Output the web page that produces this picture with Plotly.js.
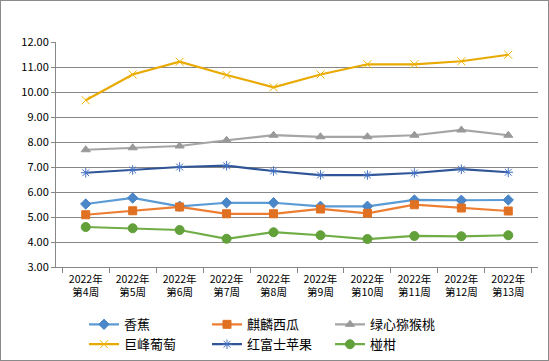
<!DOCTYPE html>
<html>
<head>
<meta charset="utf-8">
<script src="https://cdn.plot.ly/plotly-3.0.1.min.js"></script>
<style>
html,body{margin:0;padding:0;background:#fff;}
#wrap{position:relative;width:549px;height:361px;}
#chart{width:549px;height:361px;}
#border{position:absolute;left:0;top:0;width:547px;height:359px;border:1px solid #8a8a8a;pointer-events:none;}
</style>
</head>
<body>
<div id="wrap"><div id="chart"></div><div id="border"></div></div>
<script>
const weeks = ["2022年<br>第4周","2022年<br>第5周","2022年<br>第6周","2022年<br>第7周","2022年<br>第8周","2022年<br>第9周","2022年<br>第10周","2022年<br>第11周","2022年<br>第12周","2022年<br>第13周"];
const banana = [5.52,5.76,5.43,5.57,5.57,5.43,5.43,5.68,5.67,5.68];
const watermelon = [5.09,5.25,5.40,5.13,5.13,5.32,5.15,5.49,5.36,5.24];
const kiwi = [7.69,7.77,7.84,8.07,8.27,8.21,8.21,8.27,8.48,8.27];
const grape = [9.67,10.70,11.21,10.68,10.19,10.70,11.11,11.11,11.23,11.49];
const apple = [6.77,6.88,7.00,7.05,6.84,6.68,6.68,6.76,6.91,6.79];
const mandarin = [4.60,4.55,4.48,4.13,4.39,4.27,4.12,4.24,4.23,4.27];
const names = ["香蕉","麒麟西瓜","绿心猕猴桃","巨峰葡萄","红富士苹果","椪柑"];

const font = '"Noto Sans CJK SC", "DejaVu Sans", sans-serif';
function tr(name, y, lineColor, markerColor, symbol, size){
  return {
    type:'scatter', mode:'lines+markers', name:name, x:weeks, y:y,
    line:{color:lineColor, width:2.25},
    marker:{symbol:symbol, size:size, color:markerColor, line:{color:markerColor, width:1}}
  };
}
const data = [
  tr(names[0], banana, '#5B9BD5', '#4A86C8', 'diamond', 8),
  tr(names[1], watermelon, '#ED7D31', '#E07022', 'square', 8),
  tr(names[2], kiwi, '#A5A5A5', '#999999', 'triangle-up', 8),
  tr(names[3], grape, '#E8AA00', '#F0B400', 'x-thin-open', 8),
  tr(names[4], apple, '#2F5597', '#4472C4', 'asterisk-open', 8),
  tr(names[5], mandarin, '#70AD47', '#62A03A', 'circle', 9)
];
const layout = {
  width:549, height:361,
  margin:{l:56, r:11, t:42, b:94},
  paper_bgcolor:'#fff', plot_bgcolor:'#fff',
  font:{family:font, size:11, color:'#000'},
  showlegend:true,
  legend:{orientation:'h', xref:'container', yref:'container', x:0.153, xanchor:'left', y:0.143, yanchor:'top',
    font:{size:13, family:font, color:'#000'}, entrywidth:78, entrywidthmode:'pixels',
    tracegroupgap:0, itemwidth:30},
  xaxis:{type:'category', showline:true, linecolor:'#878787', linewidth:1,
    ticks:'outside', ticklen:5, tickcolor:'#878787', tickson:'boundaries',
    ticklabelstandoff:2,
    showgrid:false, tickfont:{size:10.5, family:font}, fixedrange:true, automargin:false},
  yaxis:{range:[3,12], dtick:1, tick0:3, tickformat:'.2f', showline:true, linecolor:'#878787',
    ticks:'outside', ticklen:4, tickcolor:'#878787', gridcolor:'#878787', gridwidth:1,
    zeroline:false, tickfont:{size:11, family:font}, fixedrange:true, automargin:false}
};
Plotly.newPlot('chart', data, layout, {displayModeBar:false, staticPlot:true});
</script>
</body>
</html>
